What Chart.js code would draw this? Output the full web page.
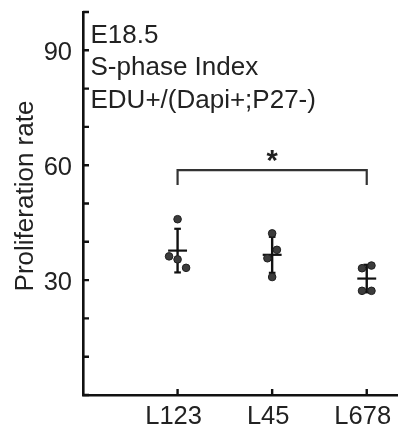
<!DOCTYPE html>
<html>
<head>
<meta charset="utf-8">
<script src="https://cdn.jsdelivr.net/npm/chart.js@4.4.0/dist/chart.umd.min.js"></script>
<style>
  html, body { margin: 0; padding: 0; background: #fff; }
</style>
</head>
<body>
<canvas id="chart" width="402" height="431"></canvas>
<script>
// groups along the x axis
const groups = ['L123', 'L45', 'L678'];

const valuesL123 = [45.9, 36.2, 35.4, 33.2];
const valuesL45 = [42.2, 37.9, 35.7, 30.8];
const valuesL678 = [33.1, 33.8, 27.2, 27.2];

// sideways spread of the dots, in group units
const jitterL123 = [0, -0.09, 0, 0.09];
const jitterL45 = [0, 0.05, -0.05, 0];
const jitterL678 = [-0.05, 0.05, -0.05, 0.05];

// mean and standard deviation of each group
const means = [37.7, 36.6, 30.4];
const sds = [5.7, 4.7, 3.6];

// y axis: minor ticks every 10, labels only on these
const yLabelled = [30, 60, 90];

// significance bracket between L123 and L678
const sigPair = [0, 2];
const sigTop = 58.7;
const sigLeg = 54.8;
const sigStarY = 62;

const yTitle = 'Proliferation rate';
const infoLines = ['E18.5', 'S-phase Index', 'EDU+/(Dapi+;P27-)'];

const FONT = '"Liberation Sans", Arial, Helvetica, sans-serif';
const INK = '#222';

Chart.defaults.font.family = FONT;
Chart.defaults.color = INK;

const allValues = [valuesL123, valuesL45, valuesL678];
const allJitter = [jitterL123, jitterL45, jitterL678];

const dots = [];
allValues.forEach(function(vals, g) {
    vals.forEach(function(v, i) {
        dots.push({ x: g + 1 + allJitter[g][i], y: v });
    });
});

const datasets = [{
    type: 'scatter',
    label: 'points',
    data: dots,
    pointRadius: 3.8,
    pointBackgroundColor: '#3c3c3c',
    pointBorderColor: '#1e1e1e',
    pointBorderWidth: 1,
    order: 0
}];

// mean line, sd bar and caps for every group
function segment(points, width) {
    return {
        type: 'line',
        data: points,
        borderColor: '#111',
        borderWidth: width,
        pointRadius: 0,
        fill: false,
        order: 1
    };
}
means.forEach(function(m, g) {
    const cx = g + 1;
    const hi = m + sds[g];
    const lo = m - sds[g];
    datasets.push(segment([{ x: cx - 0.1, y: m }, { x: cx + 0.1, y: m }], 2.2));
    datasets.push(segment([{ x: cx, y: lo }, { x: cx, y: hi }], 2.4));
    datasets.push(segment([{ x: cx - 0.035, y: hi }, { x: cx + 0.035, y: hi }], 2.2));
    datasets.push(segment([{ x: cx - 0.035, y: lo }, { x: cx + 0.035, y: lo }], 2.2));
});

// inward tick marks, bracket, star, axis title and the info text
const extras = {
    id: 'extras',
    afterDatasetsDraw(chart) {
        const ctx = chart.ctx;
        const area = chart.chartArea;
        const x = chart.scales.x;
        const y = chart.scales.y;
        ctx.save();
        ctx.strokeStyle = '#111';
        ctx.lineWidth = 2.4;
        ctx.beginPath();
        y.ticks.forEach(function(t) {
            const py = y.getPixelForValue(t.value);
            ctx.moveTo(area.left, py);
            ctx.lineTo(area.left + 6, py);
        });
        x.ticks.forEach(function(t) {
            const px = x.getPixelForValue(t.value);
            ctx.moveTo(px, area.bottom);
            ctx.lineTo(px, area.bottom - 6);
        });
        ctx.stroke();

        // bracket
        const bx1 = x.getPixelForValue(sigPair[0] + 1);
        const bx2 = x.getPixelForValue(sigPair[1] + 1);
        const by = y.getPixelForValue(sigTop);
        const bl = y.getPixelForValue(sigLeg);
        ctx.strokeStyle = '#333';
        ctx.lineWidth = 2.2;
        ctx.beginPath();
        ctx.moveTo(bx1, bl);
        ctx.lineTo(bx1, by);
        ctx.lineTo(bx2, by);
        ctx.lineTo(bx2, bl);
        ctx.stroke();

        ctx.fillStyle = INK;
        ctx.font = 'bold 29px ' + FONT;
        ctx.textAlign = 'center';
        ctx.textBaseline = 'middle';
        ctx.fillText('*', (bx1 + bx2) / 2, y.getPixelForValue(sigStarY) + 4);

        ctx.font = '26px ' + FONT;
        ctx.textAlign = 'left';
        ctx.textBaseline = 'alphabetic';
        infoLines.forEach(function(line, i) {
            ctx.fillText(line, area.left + 7.5, 42.5 + i * 32.5);
        });

        // y axis title, a bit above the middle as in the figure
        ctx.save();
        ctx.translate(33, 196);
        ctx.rotate(-Math.PI / 2);
        ctx.textAlign = 'center';
        ctx.fillText(yTitle, 0, 0);
        ctx.restore();
        ctx.restore();
    }
};

new Chart(document.getElementById('chart'), {
    data: { datasets: datasets },
    plugins: [extras],
    options: {
        responsive: false,
        animation: false,
        layout: { padding: { top: 12, left: 0, right: 0, bottom: 0 } },
        plugins: {
            legend: { display: false },
            tooltip: { enabled: false }
        },
        scales: {
            x: {
                type: 'linear',
                position: 'bottom',
                min: 0,
                max: 3.32,
                grid: { display: false, drawTicks: false },
                border: { display: true, color: '#111', width: 2.6 },
                afterBuildTicks: function(scale) {
                    scale.ticks = groups.map(function(g, i) { return { value: i + 1 }; });
                },
                afterFit: function(scale) {
                    scale.height = 36;
                    scale.paddingLeft = 0;
                    scale.paddingRight = 0;
                },
                ticks: {
                    font: { size: 25.5 },
                    color: INK,
                    padding: 7,
                    labelOffset: -4,
                    maxRotation: 0,
                    callback: function(value) { return groups[value - 1]; }
                }
            },
            y: {
                type: 'linear',
                min: 0,
                max: 100,
                grid: { display: false, drawTicks: false },
                border: { display: true, color: '#111', width: 2.6 },
                afterFit: function(scale) {
                    scale.width = 83;
                    scale.paddingTop = 0;
                    scale.paddingBottom = 0;
                },
                ticks: {
                    stepSize: 10,
                    font: { size: 25.5 },
                    color: INK,
                    padding: 11,
                    labelOffset: 3,
                    callback: function(value) {
                        return yLabelled.indexOf(value) >= 0 ? String(value) : '';
                    }
                }
            }
        }
    }
});
</script>
</body>
</html>
